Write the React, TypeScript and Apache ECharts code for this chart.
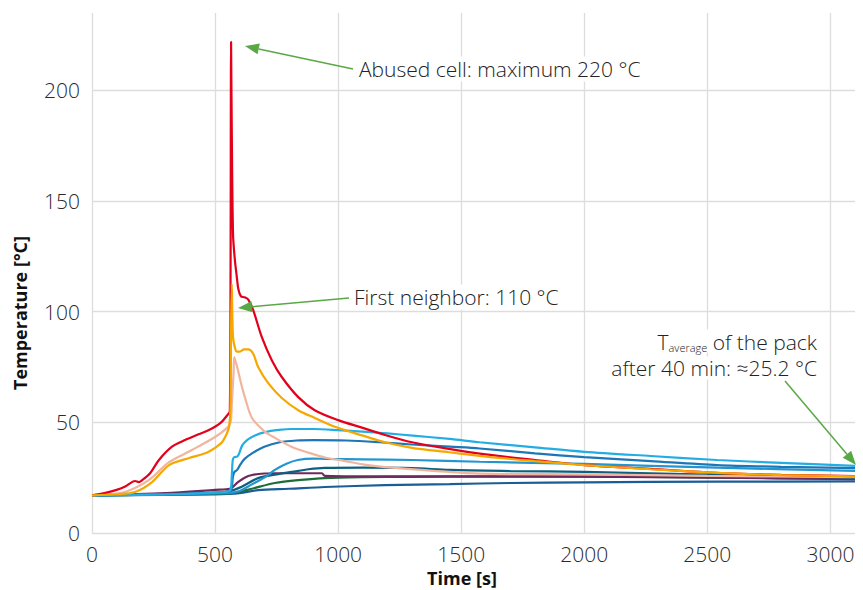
import React, { useEffect, useRef } from "react";
import * as echarts from "echarts";

const xTicks = [0, 500, 1000, 1500, 2000, 2500, 3000];
const yTicks = [0, 50, 100, 150, 200];
const X_MAX = 3100;
const Y_MAX = 235;

const red = [[0,17],[50,18],[100,19.5],[135,21],[175,23.5],[190,23],[205,24],[236,27],[272,33],[325,39],[378,42],[430,44.5],[475,46.5],[520,49.5],[548,53],[560,55],[563,120],[565,222],[568,180],[573,135],[580,124],[588,116],[595,110],[605,107],[620,106.5],[635,105.5],[655,100.7],[690,88.5],[731,78],[771,70.5],[838,61.4],[905,55.5],[1000,51],[1100,47.5],[1190,44.3],[1300,41],[1450,38],[1600,35.5],[1800,33],[2000,30.7],[2270,29],[2540,27.2],[2800,26.3],[3100,25.7]];
const orange = [[0,17],[100,17.5],[175,18.5],[244,23],[313,30.7],[395,33.9],[460,36],[500,38.5],[528,41],[548,45],[557,48],[562,55],[565,90],[568,112.5],[570,100],[573,88.5],[580,84],[588,82],[601,82],[618,83],[635,83],[655,81],[675,75],[716,67.7],[771,61],[838,55.5],[905,52],[987,48],[1100,44],[1190,41],[1300,38.5],[1450,36.5],[1600,34.5],[1800,32.5],[2000,30.7],[2270,28.8],[2540,27.2],[2800,26.2],[3100,25.6]];
const pink = [[0,17],[60,17.5],[134,18.5],[232,24],[313,32],[406,37.5],[500,43.4],[548,47.4],[563,50],[568,58],[572,66],[575,72],[578,79.5],[585,77],[593,73.6],[607,67],[621,61.4],[650,52],[700,46],[743,43],[810,39],[877,36.4],[950,34],[1015,32.8],[1100,31],[1190,29.8],[1400,28],[1575,26.8],[2000,26.5],[2500,25.8],[3100,25.2]];
const cyan = [[0,17],[300,17.5],[540,18.5],[562,19.5],[568,26],[572,33],[578,34.3],[590,34.5],[598,36],[610,39.5],[630,42],[660,44],[702,45.6],[760,46.6],[812,47],[900,47],[1000,46.5],[1100,45.8],[1200,45],[1304,44],[1453,42.5],[1575,41],[1800,38.7],[2000,36.7],[2270,34.8],[2540,33],[2800,31.7],[3100,30.3]];
const blue = [[0,17],[300,17.5],[540,18.5],[565,19.5],[572,25],[578,27.5],[590,28.5],[603,31],[620,33.5],[650,36],[700,39],[763,41],[830,41.8],[900,42],[1034,41.8],[1169,41],[1300,40],[1453,39],[1575,38.2],[1800,36],[2000,34.3],[2270,32.5],[2540,30.7],[2800,29.9],[3100,29.3]];
const skyBlue = [[0,17],[550,18],[600,19],[650,22],[700,25],[743,28.5],[790,31.3],[836,33],[900,33.6],[946,33.5],[1100,33.3],[1300,33],[1575,32.2],[2000,31.2],[2540,29.5],[3100,28.1]];
const teal = [[0,17],[400,17.8],[540,18.5],[600,20.5],[675,24.8],[750,26.5],[812,27.6],[880,28.8],[946,29.4],[1100,29.5],[1300,29.3],[1453,28.5],[1700,28],[2000,27.6],[2540,26.3],[3100,25]];
const purple = [[0,17],[300,18],[500,19.5],[560,20],[593,23],[620,25],[650,26.2],[700,26.9],[743,27],[934,27],[946,25.8],[1100,25.6],[1500,25.6],[2000,25.5],[2540,25],[3100,24.3]];
const green = [[0,17],[540,17.8],[593,18.5],[650,20],[743,22.6],[850,24],[946,24.8],[1100,25.2],[1300,25.4],[1600,25.5],[2000,25.5],[2540,25],[3100,24.6]];
const darkBlue = [[0,17],[500,17.5],[600,18],[675,19.4],[800,20],[946,20.8],[1190,21.6],[1453,22.1],[1700,22.6],[2000,22.9],[2540,23.2],[3100,23.3]];

const seriesList = [
  { name: "Cell 10", data: darkBlue, color: "#1b5d96" },
  { name: "Cell 9", data: green, color: "#1d6d3b" },
  { name: "Cell 8", data: purple, color: "#6d2a5d" },
  { name: "Cell 7", data: teal, color: "#0e607f" },
  { name: "Cell 6", data: skyBlue, color: "#2396cf" },
  { name: "Cell 5", data: blue, color: "#1d77b7" },
  { name: "Cell 4", data: cyan, color: "#24ade3" },
  { name: "Cell 3", data: pink, color: "#f1b59e" },
  { name: "Cell 1", data: red, color: "#e2001a" },
  { name: "Cell 2", data: orange, color: "#f6a800" },
];

const FONT = "'Open Sans', 'Liberation Sans', sans-serif";
const GREEN = "#5aa845";
const GRID = "#dddddd";

function arrow(x1: number, y1: number, x2: number, y2: number) {
  const dx = x2 - x1, dy = y2 - y1;
  const len = Math.sqrt(dx * dx + dy * dy);
  const ux = dx / len, uy = dy / len;
  const hl = 14, hw = 5.5;
  const bx = x2 - ux * hl, by = y2 - uy * hl;
  return [
    { type: "line", shape: { x1, y1, x2: bx, y2: by }, style: { stroke: GREEN, lineWidth: 1.5 }, z: 100 },
    {
      type: "polygon",
      shape: { points: [[x2, y2], [bx - uy * hw, by + ux * hw], [bx + uy * hw, by - ux * hw]] },
      style: { fill: GREEN },
      z: 100,
    },
  ];
}

export default function App() {
  const ref = useRef<HTMLDivElement>(null);
  useEffect(() => {
    document.body.style.margin = "0";
    const chart = echarts.init(ref.current!, null, { renderer: "svg" });
    const xColors = xTicks.map(() => GRID).concat(["rgba(0,0,0,0)"]);
    const yColors = yTicks.map(() => GRID).concat(["rgba(0,0,0,0)"]);
    const labelStyle = {
      showMaxLabel: false,
      color: "#2a2a2a",
      fontSize: 21,
      fontFamily: FONT,
      fontWeight: 300,
      formatter: (v: number) => String(v),
    };
    chart.setOption({
      animation: false,
      backgroundColor: "#ffffff",
      grid: { left: 92, right: 8, top: 13, bottom: 57, containLabel: false },
      xAxis: {
        type: "value",
        min: 0,
        max: X_MAX,
        interval: 500,
        axisLine: { show: false },
        axisTick: { show: false },
        splitLine: { show: true, lineStyle: { color: xColors, width: 1.3 } },
        axisLabel: { ...labelStyle, margin: 10 },
      },
      yAxis: {
        type: "value",
        min: 0,
        max: Y_MAX,
        interval: 50,
        axisLine: { show: false },
        axisTick: { show: false },
        splitLine: { show: true, lineStyle: { color: yColors, width: 1.3 } },
        axisLabel: { ...labelStyle, margin: 12 },
      },
      series: seriesList.map((s) => ({
        name: s.name,
        type: "line",
        data: s.data,
        showSymbol: false,
        smooth: 0.3,
        lineStyle: { color: s.color, width: 2.2 },
        itemStyle: { color: s.color },
      })),
      graphic: [
        {
          type: "text",
          x: 20,
          y: 313,
          rotation: Math.PI / 2,
          style: { text: "Temperature [°C]", fill: "#111", font: `bold 18px ${FONT}`, align: "center", verticalAlign: "middle" },
        },
        {
          type: "text",
          x: 462,
          y: 578,
          style: { text: "Time [s]", fill: "#111", font: `bold 18px ${FONT}`, align: "center", verticalAlign: "middle" },
        },
        ...arrow(353, 69, 245, 46),
        {
          type: "text",
          x: 356,
          y: 69,
          z: 90,
          style: {
            text: "Abused cell: maximum 220 °C",
            fill: "#222",
            font: `300 21px ${FONT}`,
            align: "left",
            verticalAlign: "middle",
            backgroundColor: "#fff",
            padding: [2, 3, 2, 3],
          },
        },
        ...arrow(349, 298, 238, 308),
        {
          type: "text",
          x: 351,
          y: 297,
          z: 90,
          style: {
            text: "First neighbor: 110 °C",
            fill: "#222",
            font: `300 21px ${FONT}`,
            align: "left",
            verticalAlign: "middle",
            backgroundColor: "#fff",
            padding: [2, 3, 2, 3],
          },
        },
        {
          type: "text",
          x: 819,
          y: 341,
          z: 90,
          style: {
            text: "{t|T}{s|average}{t| of the pack}",
            align: "right",
            verticalAlign: "middle",
            backgroundColor: "#fff",
            padding: [1, 2, 0, 4],
            rich: {
              t: { fontSize: 21, fontWeight: 300, fontFamily: FONT, fill: "#222", lineHeight: 22 },
              s: { fontSize: 11, fontWeight: 300, fontFamily: FONT, fill: "#222", lineHeight: 11, verticalAlign: "bottom" },
            },
          },
        },
        {
          type: "text",
          x: 819,
          y: 368,
          z: 90,
          style: {
            text: "after 40 min: ≈25.2 °C",
            fill: "#222",
            font: `300 21px ${FONT}`,
            lineHeight: 22,
            align: "right",
            verticalAlign: "middle",
            backgroundColor: "#fff",
            padding: [0, 2, 1, 4],
          },
        },
        ...arrow(785, 381, 856, 465),
      ],
    });
    return () => chart.dispose();
  }, []);
  return <div ref={ref} style={{ width: 863, height: 590 }} />;
}
